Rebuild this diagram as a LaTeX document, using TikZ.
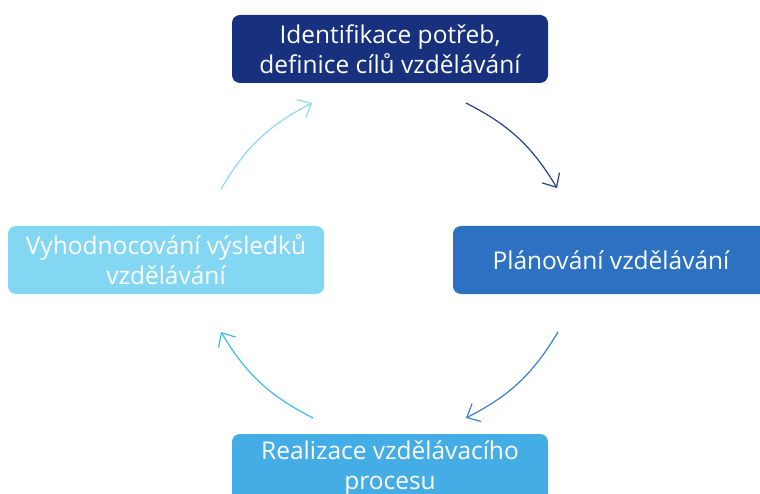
\documentclass[tikz,border=0pt]{standalone}
\usepackage{fontspec}
\setmainfont{Open Sans}
\usetikzlibrary{arrows.meta}
\definecolor{cTop}{HTML}{17317F}
\definecolor{cRight}{HTML}{2D72C2}
\definecolor{cBottom}{HTML}{45ADE5}
\definecolor{cLeft}{HTML}{83D7F3}
\definecolor{aOne}{HTML}{23418F}
\definecolor{aTwo}{HTML}{3B7FCC}
\definecolor{aThree}{HTML}{3DBDE3}
\definecolor{aFour}{HTML}{8DD9F2}
\tikzset{
  stage/.style={rounded corners=8pt, minimum width=316pt, minimum height=68pt,
    text=white, align=center, inner sep=0pt,
    font=\fontsize{24.5}{30}\selectfont},
  cyc/.style={line width=1.2pt, bend left=16,
    -{Straight Barb[length=11pt,width=20pt,line width=1.2pt]}}
}
\begin{document}
\begin{tikzpicture}[x=1pt,y=-1pt]
\useasboundingbox (0,0) rectangle (760,494);
\node[stage, fill=cTop] (top) at (390,49) {Identifikace potřeb,\\definice cílů vzdělávání};
\node[stage, fill=cRight] (right) at (611,260) {Plánování vzdělávání};
\node[stage, fill=cBottom] (bottom) at (390,468) {Realizace vzdělávacího\\procesu};
\node[stage, fill=cLeft] (left) at (166,260) {Vyhodnocování výsledků\\vzdělávání};
\coordinate (a1s) at (466,103);
\coordinate (a1e) at (557,188);
\coordinate (a2s) at (558,332);
\coordinate (a2e) at (466,418);
\coordinate (a3s) at (313,418);
\coordinate (a3e) at (221,332);
\coordinate (a4s) at (221,189);
\coordinate (a4e) at (312,103);
\draw[cyc, aOne] (a1s) to (a1e);
\draw[cyc, aTwo] (a2s) to (a2e);
\draw[cyc, aThree] (a3s) to (a3e);
\draw[cyc, aFour] (a4s) to (a4e);
\end{tikzpicture}
\end{document}
